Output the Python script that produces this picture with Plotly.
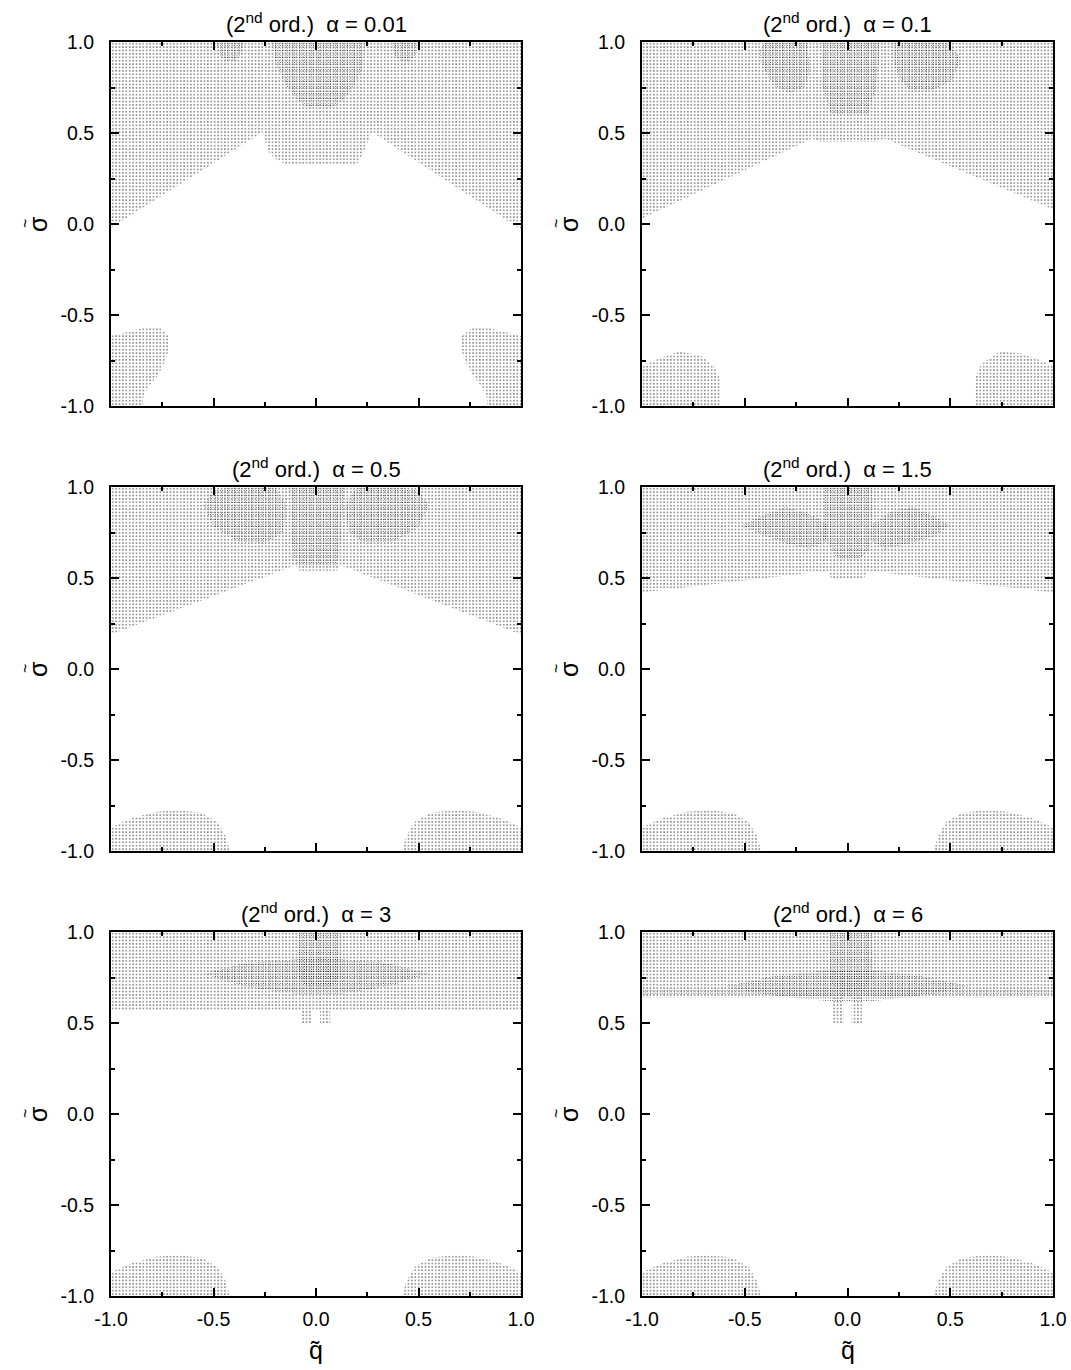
import plotly.graph_objects as go

# ---------------- data ----------------
ALPHA_LABELS = ["0.01", "0.1", "0.5", "1.5", "3", "6"]
TICK_VALS = [-1.0, -0.5, 0.0, 0.5, 1.0]
TICK_TEXT = ["-1.0", "-0.5", "0.0", "0.5", "1.0"]
MINOR_VALS = [-0.75, -0.25, 0.25, 0.75]

# panel 1: alpha = 0.01
P1_UPPER_Q = [-1, -0.26, -0.234, -0.19, -0.15, 0.2, 0.23, 0.273, 1, 1, -1]
P1_UPPER_S = [-0.02, 0.505, 0.40, 0.35, 0.33, 0.33, 0.39, 0.505, -0.03, 1, 1]
P1_CORE_Q = [-0.22, -0.19, -0.14, -0.09, -0.04, 0.08, 0.13, 0.18, 0.23, 0.24]
P1_CORE_S = [1, 0.86, 0.75, 0.68, 0.64, 0.64, 0.68, 0.75, 0.86, 1]
P1_LBLOB_Q = [-0.49, -0.47, -0.44, -0.39, -0.36, -0.355]
P1_LBLOB_S = [1, 0.93, 0.89, 0.89, 0.95, 1]
P1_RBLOB_Q = [0.37, 0.38, 0.41, 0.46, 0.49, 0.5]
P1_RBLOB_S = [1, 0.93, 0.89, 0.89, 0.94, 1]
P1_LLOW_Q = [-1, -1, -0.92, -0.845, -0.76, -0.737, -0.722, -0.722, -0.737, -0.776, -0.82, -0.844, -0.844]
P1_LLOW_S = [-1, -0.615, -0.593, -0.571, -0.571, -0.593, -0.615, -0.70, -0.758, -0.841, -0.896, -0.956, -1]
P1_RLOW_Q = [1, 1, 0.92, 0.845, 0.76, 0.737, 0.712, 0.712, 0.73, 0.77, 0.81, 0.835, 0.835]
P1_RLOW_S = [-1, -0.615, -0.593, -0.571, -0.571, -0.593, -0.615, -0.70, -0.758, -0.841, -0.896, -0.956, -1]

# panel 2: alpha = 0.1
P2_UPPER_Q = [-1, -0.17, -0.14, 0.14, 0.18, 1, 1, -1]
P2_UPPER_S = [0.03, 0.47, 0.45, 0.45, 0.47, 0.08, 1, 1]
P2_CORE_Q = [-0.13, -0.12, -0.08, 0.10, 0.14, 0.16]
P2_CORE_S = [1, 0.75, 0.60, 0.60, 0.75, 1]
P2_LWING_Q = [-0.43, -0.40, -0.20, -0.18, -0.21, -0.28, -0.36, -0.42]
P2_LWING_S = [0.95, 1, 1, 0.85, 0.75, 0.72, 0.76, 0.88]
P2_RWING_Q = [0.22, 0.50, 0.55, 0.51, 0.40, 0.31, 0.25, 0.22]
P2_RWING_S = [1, 1, 0.90, 0.79, 0.73, 0.73, 0.80, 0.90]
P2_LLOW_Q = [-1, -1, -0.92, -0.82, -0.72, -0.65, -0.62, -0.62]
P2_LLOW_S = [-1, -0.78, -0.74, -0.70, -0.72, -0.78, -0.85, -1]
P2_RLOW_Q = [0.62, 0.62, 0.65, 0.74, 0.84, 0.92, 1, 1]
P2_RLOW_S = [-1, -0.85, -0.77, -0.70, -0.71, -0.74, -0.78, -1]

# panel 3: alpha = 0.5
P3_UPPER_Q = [-1, -0.10, -0.08, 0.10, 0.12, 1, 1, -1]
P3_UPPER_S = [0.19, 0.57, 0.54, 0.54, 0.57, 0.19, 1, 1]
P3_CORE_Q = [-0.13, -0.12, -0.10, 0.10, 0.12, 0.14]
P3_CORE_S = [1, 0.70, 0.57, 0.57, 0.70, 1]
P3_LWING_Q = [-0.55, -0.50, -0.40, -0.20, -0.14, -0.16, -0.25, -0.38, -0.50]
P3_LWING_S = [0.90, 0.98, 1, 1, 0.90, 0.75, 0.69, 0.70, 0.78]
P3_RWING_Q = [0.55, 0.50, 0.40, 0.20, 0.14, 0.16, 0.25, 0.38, 0.50]
P3_RWING_S = [0.90, 0.98, 1, 1, 0.90, 0.75, 0.69, 0.70, 0.78]
P3_LLOW_Q = [-1, -1, -0.90, -0.78, -0.68, -0.56, -0.48, -0.44, -0.42]
P3_LLOW_S = [-1, -0.87, -0.82, -0.785, -0.775, -0.79, -0.84, -0.92, -1]
P3_RLOW_Q = [1, 1, 0.90, 0.78, 0.68, 0.56, 0.48, 0.44, 0.42]
P3_RLOW_S = [-1, -0.87, -0.82, -0.785, -0.775, -0.79, -0.84, -0.92, -1]

# panel 4: alpha = 1.5
P4_UPPER_Q = [-1, -0.10, -0.08, 0.08, 0.10, 1, 1, -1]
P4_UPPER_S = [0.42, 0.54, 0.50, 0.50, 0.54, 0.42, 1, 1]
P4_CORE_Q = [-0.11, -0.11, -0.06, -0.02, 0.05, 0.10, 0.12, 0.12]
P4_CORE_S = [1, 0.72, 0.62, 0.60, 0.60, 0.65, 0.72, 1]
P4_LWING_Q = [-0.52, -0.42, -0.30, -0.20, -0.10, -0.10, -0.18, -0.30, -0.42]
P4_LWING_S = [0.79, 0.84, 0.89, 0.86, 0.80, 0.70, 0.66, 0.69, 0.74]
P4_RWING_Q = [0.12, 0.22, 0.32, 0.42, 0.50, 0.42, 0.30, 0.18, 0.12]
P4_RWING_S = [0.80, 0.87, 0.89, 0.84, 0.79, 0.73, 0.69, 0.66, 0.70]
P4_LLOW_Q = P3_LLOW_Q
P4_LLOW_S = P3_LLOW_S
P4_RLOW_Q = P3_RLOW_Q
P4_RLOW_S = P3_RLOW_S

# panel 5: alpha = 3
P5_UPPER_Q = [-1, 1, 1, -1]
P5_UPPER_S = [0.57, 0.57, 1, 1]
P5_STUB1_Q = [-0.07, -0.02, -0.02, -0.07]
P5_STUB1_S = [0.50, 0.50, 0.57, 0.57]
P5_STUB2_Q = [0.02, 0.07, 0.07, 0.02]
P5_STUB2_S = [0.50, 0.50, 0.57, 0.57]
P5_CORE_Q = [-0.09, -0.09, -0.05, 0.08, 0.12, 0.12]
P5_CORE_S = [1, 0.76, 0.70, 0.70, 0.76, 1]
P5_WING_Q = [-0.55, -0.35, -0.09, 0.12, 0.35, 0.55, 0.35, 0.12, -0.09, -0.35]
P5_WING_S = [0.77, 0.83, 0.85, 0.85, 0.83, 0.77, 0.70, 0.66, 0.66, 0.70]
P5_LLOW_Q = P3_LLOW_Q
P5_LLOW_S = P3_LLOW_S
P5_RLOW_Q = P3_RLOW_Q
P5_RLOW_S = P3_RLOW_S

# panel 6: alpha = 6
P6_UPPER_Q = [-1, 1, 1, -1]
P6_UPPER_S = [0.64, 0.64, 1, 1]
P6_STUB1_Q = [-0.07, -0.02, -0.02, -0.07]
P6_STUB1_S = [0.50, 0.50, 0.64, 0.64]
P6_STUB2_Q = [0.02, 0.07, 0.07, 0.02]
P6_STUB2_S = [0.50, 0.50, 0.64, 0.64]
P6_CORE_Q = [-0.09, -0.09, -0.05, 0.08, 0.12, 0.12]
P6_CORE_S = [1, 0.74, 0.68, 0.68, 0.74, 1]
P6_WING_Q = [-0.60, -0.35, -0.09, 0.12, 0.35, 0.60, 0.35, 0.12, -0.09, -0.35]
P6_WING_S = [0.70, 0.76, 0.79, 0.79, 0.76, 0.70, 0.65, 0.62, 0.62, 0.65]
P6_BAND_Q = [-1, 1, 1, -1]
P6_BAND_S = [0.655, 0.655, 0.685, 0.685]
P6_LLOW_Q = P3_LLOW_Q
P6_LLOW_S = P3_LLOW_S
P6_RLOW_Q = P3_RLOW_Q
P6_RLOW_S = P3_RLOW_S

SPARSE = {
    1: [(P1_UPPER_Q, P1_UPPER_S), (P1_LLOW_Q, P1_LLOW_S), (P1_RLOW_Q, P1_RLOW_S)],
    2: [(P2_UPPER_Q, P2_UPPER_S), (P2_LLOW_Q, P2_LLOW_S), (P2_RLOW_Q, P2_RLOW_S)],
    3: [(P3_UPPER_Q, P3_UPPER_S), (P3_LLOW_Q, P3_LLOW_S), (P3_RLOW_Q, P3_RLOW_S)],
    4: [(P4_UPPER_Q, P4_UPPER_S), (P4_LLOW_Q, P4_LLOW_S), (P4_RLOW_Q, P4_RLOW_S)],
    5: [(P5_UPPER_Q, P5_UPPER_S), (P5_STUB1_Q, P5_STUB1_S), (P5_STUB2_Q, P5_STUB2_S),
        (P5_LLOW_Q, P5_LLOW_S), (P5_RLOW_Q, P5_RLOW_S)],
    6: [(P6_UPPER_Q, P6_UPPER_S), (P6_STUB1_Q, P6_STUB1_S), (P6_STUB2_Q, P6_STUB2_S),
        (P6_LLOW_Q, P6_LLOW_S), (P6_RLOW_Q, P6_RLOW_S)],
}
DENSE = {
    1: [(P1_CORE_Q, P1_CORE_S), (P1_LBLOB_Q, P1_LBLOB_S), (P1_RBLOB_Q, P1_RBLOB_S)],
    2: [(P2_CORE_Q, P2_CORE_S), (P2_LWING_Q, P2_LWING_S), (P2_RWING_Q, P2_RWING_S)],
    3: [(P3_CORE_Q, P3_CORE_S), (P3_LWING_Q, P3_LWING_S), (P3_RWING_Q, P3_RWING_S)],
    4: [(P4_CORE_Q, P4_CORE_S), (P4_LWING_Q, P4_LWING_S), (P4_RWING_Q, P4_RWING_S)],
    5: [(P5_CORE_Q, P5_CORE_S), (P5_WING_Q, P5_WING_S)],
    6: [(P6_CORE_Q, P6_CORE_S), (P6_WING_Q, P6_WING_S), (P6_BAND_Q, P6_BAND_S)],
}

# ---------------- layout geometry (pixels of a 1071 x 1370 page) ----------------
W, H = 1071, 1370
COLS = [(111, 521), (642, 1053)]
ROWS = [(42, 406), (487, 851), (932, 1296)]
FONT = "Liberation Sans, Arial, Helvetica, sans-serif"

fig = go.Figure()

def add_poly(k, q, s, size, sol):
    fig.add_trace(go.Scatter(
        x=q, y=s, mode="lines", fill="toself",
        line=dict(width=0, color="rgba(0,0,0,0)"),
        fillcolor="rgba(255,255,255,0)",
        fillpattern=dict(shape=".", size=size, solidity=sol,
                         fgcolor="#000000", bgcolor="rgba(0,0,0,0)", fillmode="replace"),
        xaxis="x" if k == 1 else f"x{k}", yaxis="y" if k == 1 else f"y{k}",
        hoverinfo="skip", showlegend=False))

for k in range(1, 7):
    for q, s in SPARSE[k]:
        add_poly(k, q, s, 3.4, 0.11)
    for q, s in DENSE[k]:
        add_poly(k, q, s, 2.4, 0.10)

annotations = []
for k in range(1, 7):
    r, c = (k - 1) // 2, (k - 1) % 2
    x0, x1 = COLS[c]
    y0, y1 = ROWS[r]
    xd = [x0 / W, x1 / W]
    yd = [1 - y1 / H, 1 - y0 / H]
    common = dict(
        range=[-1, 1], showgrid=False, zeroline=False,
        showline=True, linewidth=2, linecolor="black", mirror="ticks",
        ticks="inside", ticklen=8, tickwidth=2, tickcolor="black",
        tickmode="array", tickvals=TICK_VALS, ticktext=TICK_TEXT,
        minor=dict(ticks="inside", ticklen=4, tickwidth=2, tickcolor="black",
                   tickvals=MINOR_VALS, showgrid=False),
        tickfont=dict(family=FONT, size=19.5, color="black"),
        automargin=False, fixedrange=True)
    ax = dict(common, domain=xd, showticklabels=(r == 2), ticklabelstandoff=5,
              anchor="y" if k == 1 else f"y{k}")
    ay = dict(common, domain=yd, showticklabels=True, ticklabelstandoff=11,
              anchor="x" if k == 1 else f"x{k}")
    fig.update_layout(**{("xaxis" if k == 1 else f"xaxis{k}"): ax,
                         ("yaxis" if k == 1 else f"yaxis{k}"): ay})
    # panel title
    annotations.append(dict(
        text=f"(2<sup>nd</sup> ord.)\u00a0\u00a0α = {ALPHA_LABELS[k-1]}",
        xref="paper", yref="paper", x=(x0 + x1) / 2 / W, y=1 - (y0 - 3) / H,
        xanchor="center", yanchor="bottom", showarrow=False,
        font=dict(family=FONT, size=22, color="black")))
    # y-axis title: sigma with a tilde above (rotated)
    yc = 1 - (y0 + y1) / 2 / H
    annotations.append(dict(
        text="σ", xref="paper", yref="paper",
        x=(x0 - 73) / W, y=yc, textangle=-90,
        xanchor="center", yanchor="middle", showarrow=False,
        font=dict(family=FONT, size=25, color="black")))
    annotations.append(dict(
        text="~", xref="paper", yref="paper",
        x=(x0 - 86) / W, y=yc, textangle=-90,
        xanchor="center", yanchor="middle", showarrow=False,
        font=dict(family=FONT, size=16, color="black")))
    if r == 2:
        annotations.append(dict(
            text="q̃", xref="paper", yref="paper",
            x=(x0 + x1) / 2 / W, y=1 - 1350 / H,
            xanchor="center", yanchor="middle", showarrow=False,
            font=dict(family=FONT, size=25, color="black")))

fig.update_layout(
    width=W, height=H, autosize=False,
    margin=dict(l=0, r=0, t=0, b=0, pad=0),
    paper_bgcolor="white", plot_bgcolor="white",
    showlegend=False, annotations=annotations,
    font=dict(family=FONT, color="black"))

fig.write_html("out.html")
